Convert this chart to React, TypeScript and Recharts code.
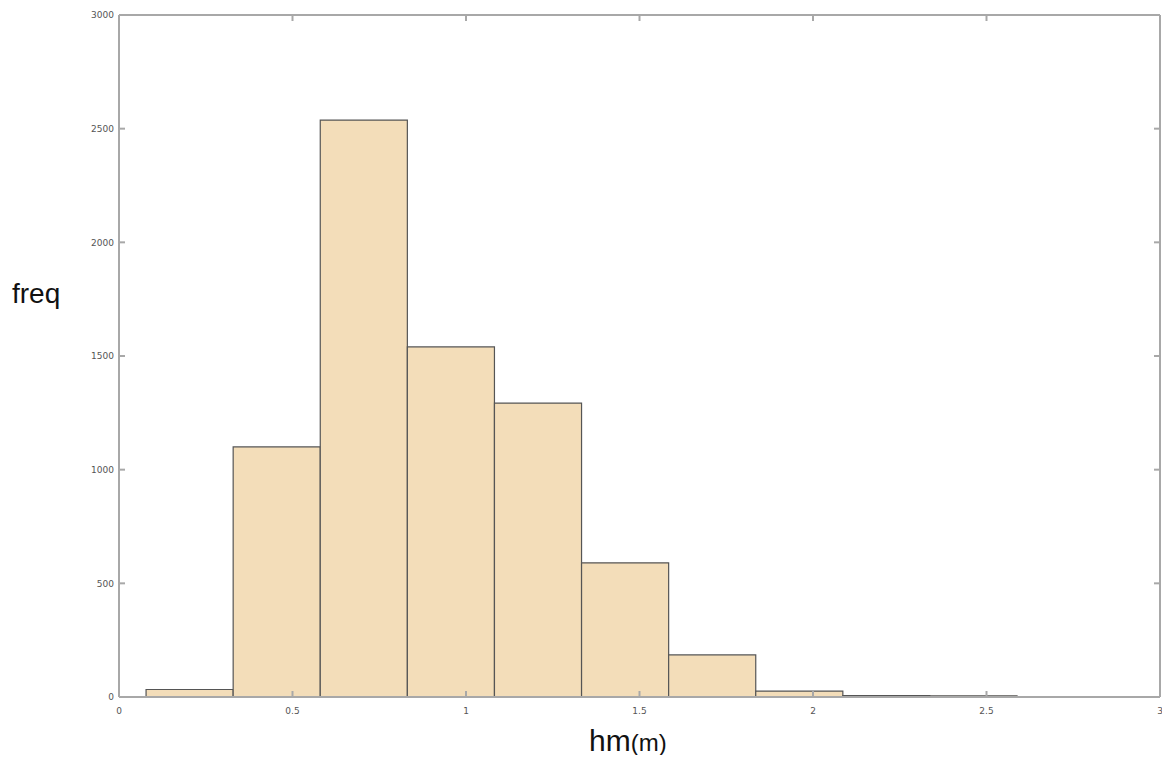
import { ComposedChart, XAxis, YAxis, ReferenceArea, Line } from "recharts";

const binEdges = [0.078, 0.329, 0.58, 0.831, 1.082, 1.333, 1.584, 1.835, 2.086, 2.337, 2.588];
const counts = [33, 1100, 2538, 1540, 1293, 590, 185, 26, 6, 5];
const xTicks = [0, 0.5, 1, 1.5, 2, 2.5, 3];
const yTicks = [0, 500, 1000, 1500, 2000, 2500, 3000];

const bins = counts.map((c, i) => ({
    x0: binEdges[i],
    x1: binEdges[i + 1],
    mid: (binEdges[i] + binEdges[i + 1]) / 2,
    count: c,
}));

const axisColor = "#a8a8a8";
const tickFont = { fontSize: 9, fill: "#555", fontFamily: "DejaVu Sans" };

export default function App() {
    return (
        <div style={{ position: "relative", width: 1170, height: 763, margin: -8, background: "#fff" }}>
            <ComposedChart
                width={1170}
                height={763}
                data={bins}
                margin={{ top: 14, right: 9, left: 0, bottom: 0 }}
            >
                <XAxis
                    xAxisId="b"
                    type="number"
                    dataKey="mid"
                    domain={[0, 3]}
                    ticks={xTicks}
                    height={66}
                    stroke={axisColor}
                    strokeWidth={2}
                    tickSize={-6}
                    tickMargin={17}
                    tick={tickFont}
                    tickFormatter={(v: number) => String(v)}
                />
                <XAxis
                    xAxisId="t"
                    orientation="top"
                    type="number"
                    dataKey="mid"
                    domain={[0, 3]}
                    ticks={xTicks}
                    interval={0}
                    height={1}
                    stroke={axisColor}
                    strokeWidth={2}
                    tickSize={-6}
                    tick={tickFont}
                    tickFormatter={() => ""}
                />
                <YAxis
                    yAxisId="l"
                    type="number"
                    dataKey="count"
                    domain={[0, 3000]}
                    ticks={yTicks}
                    width={119}
                    stroke={axisColor}
                    strokeWidth={2}
                    tickSize={-6}
                    tickMargin={11}
                    tick={tickFont}
                />
                <YAxis
                    yAxisId="r"
                    orientation="right"
                    type="number"
                    dataKey="count"
                    domain={[0, 3000]}
                    ticks={yTicks}
                    interval={0}
                    width={1}
                    stroke={axisColor}
                    strokeWidth={2}
                    tickSize={-6}
                    tick={tickFont}
                    tickFormatter={() => ""}
                />
                {bins.map((b, i) => (
                    <ReferenceArea
                        key={i}
                        xAxisId="b"
                        yAxisId="l"
                        x1={b.x0}
                        x2={b.x1}
                        y1={0}
                        y2={b.count}
                        fill="#f3ddb9"
                        fillOpacity={1}
                        stroke="#555"
                        strokeWidth={1.2}
                        ifOverflow="visible"
                    />
                ))}
                <Line
                    xAxisId="b"
                    yAxisId="l"
                    dataKey="count"
                    stroke="none"
                    dot={false}
                    activeDot={false}
                    isAnimationActive={false}
                />
            </ComposedChart>
            <div
                style={{
                    position: "absolute",
                    left: 12,
                    top: 278,
                    fontFamily: "Liberation Sans",
                    fontSize: 28,
                    color: "#111",
                }}
            >
                freq
            </div>
            <div
                style={{
                    position: "absolute",
                    left: 589,
                    top: 724,
                    fontFamily: "Liberation Sans",
                    color: "#111",
                    whiteSpace: "nowrap",
                }}
            >
                <span style={{ fontSize: 30 }}>hm</span>
                <span style={{ fontSize: 24 }}>(m)</span>
            </div>
        </div>
    );
}
